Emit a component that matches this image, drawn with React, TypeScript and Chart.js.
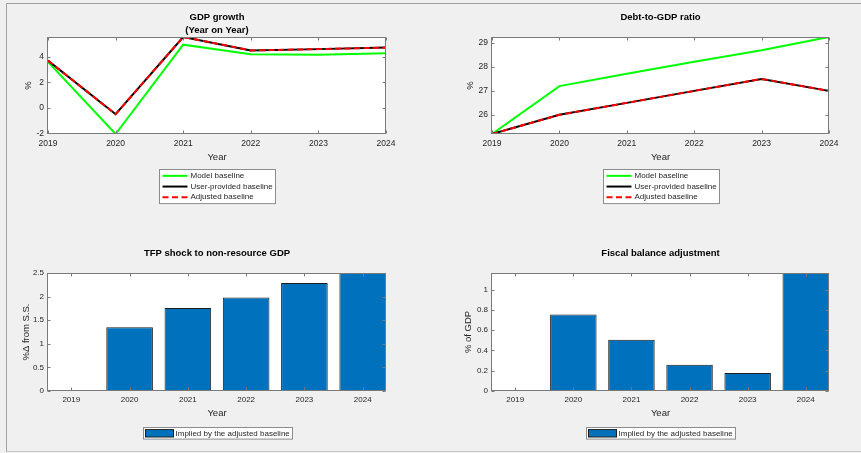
import React, { useEffect, useRef } from 'react';
import { Chart, registerables } from 'chart.js';

Chart.register(...registerables);

// ---------------- data ----------------
const YEARS = [2019, 2020, 2021, 2022, 2023, 2024];
const YEAR_LABELS = ['2019', '2020', '2021', '2022', '2023', '2024'];

const SERIES_LABELS = ['Model baseline', 'User-provided baseline', 'Adjusted baseline'];
const BAR_LABEL = 'Implied by the adjusted baseline';

const GDP_MODEL = [3.6, -2.05, 4.95, 4.2, 4.15, 4.28];
const GDP_USER = [3.7, -0.5, 5.55, 4.5, 4.6, 4.72];
const GDP_ADJUSTED = [3.7, -0.5, 5.55, 4.5, 4.6, 4.72];
const GDP_TICKS = [-2, 0, 2, 4];

const DEBT_MODEL = [25.2, 27.2, 27.72, 28.22, 28.7, 29.25];
const DEBT_USER = [25.2, 26.0, 26.5, 27.0, 27.5, 27.0];
const DEBT_ADJUSTED = [25.2, 26.0, 26.5, 27.0, 27.5, 27.0];
const DEBT_TICKS = [26, 27, 28, 29];

const TFP_SHOCK = [0, 1.35, 1.76, 1.98, 2.29, 2.5];
const TFP_TICKS = [0, 0.5, 1, 1.5, 2, 2.5];

const FISCAL_ADJ = [0, 0.755, 0.505, 0.26, 0.178, 1.165];
const FISCAL_TICKS = [0, 0.2, 0.4, 0.6, 0.8, 1];

// ---------------- style ----------------
const FONT = '"Liberation Sans", Arial, Helvetica, sans-serif';
const GREEN = '#00ff00';
const BLACK = '#000000';
const RED = '#ff0000';
const BAR_BLUE = '#0072BD';
const AXIS_COLOR = '#7a7a7a';
const TEXT_COLOR = '#262626';

Chart.defaults.font.family = FONT;
Chart.defaults.color = TEXT_COLOR;

const bgPlugin = {
  id: 'mlBg',
  beforeDraw(chart: any) {
    const { ctx, chartArea: a } = chart;
    ctx.save();
    ctx.fillStyle = '#ffffff';
    ctx.fillRect(a.left, a.top, a.right - a.left, a.bottom - a.top);
    ctx.restore();
  },
};

const framePlugin = {
  id: 'mlFrame',
  afterDraw(chart: any) {
    const { ctx, chartArea: a, scales } = chart;
    const x = scales.x;
    const y = scales.y;
    const TL = 3;
    ctx.save();
    ctx.strokeStyle = AXIS_COLOR;
    ctx.lineWidth = 1;
    const l = Math.round(a.left) - 0.5;
    const r = Math.round(a.right) - 0.5;
    const t = Math.round(a.top) + 0.5;
    const b = Math.round(a.bottom) - 0.5;
    ctx.strokeRect(l, t, r - l, b - t);
    ctx.beginPath();
    for (let i = 0; i < x.ticks.length; i++) {
      const px = Math.round(x.getPixelForTick(i)) + 0.5;
      ctx.moveTo(px, b);
      ctx.lineTo(px, b - TL);
      ctx.moveTo(px, t);
      ctx.lineTo(px, t + TL);
    }
    for (let i = 0; i < y.ticks.length; i++) {
      const py = Math.round(y.getPixelForTick(i)) + 0.5;
      ctx.moveTo(l, py);
      ctx.lineTo(l + TL, py);
      ctx.moveTo(r, py);
      ctx.lineTo(r - TL, py);
    }
    ctx.stroke();
    ctx.restore();
  },
};

const legendPlugin = {
  id: 'mlLegend',
  afterDraw(chart: any, _args: any, opts: any) {
    const { ctx, chartArea: a } = chart;
    const ds = chart.data.datasets;
    ctx.save();
    ctx.font = `8px ${FONT}`;
    const maxW = Math.max(...ds.map((d: any) => ctx.measureText(d.label).width));
    const textX = opts.kind === 'line' ? 31 : 32;
    const w = Math.round(textX + maxW + 3);
    const h = ds.length * opts.rowH + opts.padY * 2;
    const cx = (a.left + a.right) / 2 + (opts.dx || 0);
    const left = Math.round(cx - w / 2) + 0.5;
    const top = Math.round(opts.top) + 0.5;
    ctx.fillStyle = '#ffffff';
    ctx.fillRect(left, top, w, h);
    ctx.strokeStyle = '#8c8c8c';
    ctx.lineWidth = 1;
    ctx.strokeRect(left, top, w, h);
    ds.forEach((d: any, i: number) => {
      const yc = top + opts.padY + opts.rowH * (i + 0.5);
      if (opts.kind === 'line') {
        ctx.strokeStyle = d.borderColor;
        ctx.lineWidth = 2;
        ctx.setLineDash(d.borderDash || []);
        ctx.beginPath();
        ctx.moveTo(left + 3, yc);
        ctx.lineTo(left + 28, yc);
        ctx.stroke();
        ctx.setLineDash([]);
      } else {
        ctx.fillStyle = d.backgroundColor;
        ctx.fillRect(left + 2, yc - 3.7, 28, 7.4);
        ctx.strokeStyle = '#1c1c1c';
        ctx.lineWidth = 1;
        ctx.strokeRect(left + 2, yc - 3.7, 28, 7.4);
      }
      ctx.fillStyle = TEXT_COLOR;
      ctx.textAlign = 'left';
      ctx.textBaseline = 'middle';
      ctx.fillText(d.label, left + textX, yc);
    });
    ctx.restore();
  },
};

type Spec = {
  kind: 'line' | 'bar';
  box: { x: number; y: number; w: number; h: number };
  area: { l: number; t: number; r: number; b: number };
  title: string[];
  titleY: number;
  yTitle: string;
  yTitleX: number;
  yMin: number;
  yMax: number;
  yTicks: number[];
  tickFont: number;
  xTickPad: number;
  yearY: number;
  legendTop: number;
  datasets: any[];
};

function buildConfig(p: Spec): any {
  const cx = p.box.x;
  const cy = p.box.y;
  const TITLE_LH = 13;
  const AX_LH = 11;
  const titlePadTop = p.titleY - cy - TITLE_LH / 2;
  const titlePadBottom = p.area.t - cy - titlePadTop - TITLE_LH * p.title.length;
  const yW = p.area.l - cx;
  const xH = cy + p.box.h - p.area.b;
  const padRight = cx + p.box.w - p.area.r;
  const yearPadBottom = cy + p.box.h - p.yearY - AX_LH / 2;
  const yTitlePadTop = p.yTitleX - cx - AX_LH / 2;

  const xScale: any =
    p.kind === 'line'
      ? { type: 'category', offset: false }
      : {
          type: 'linear',
          offset: false,
          min: YEARS[0] - 0.4,
          max: YEARS[YEARS.length - 1] + 0.4,
          afterBuildTicks: (s: any) => {
            s.ticks = YEARS.map((v) => ({ value: v }));
          },
        };

  const xTickCallback =
    p.kind === 'line'
      ? (_v: any, i: number) => YEAR_LABELS[i]
      : (v: any) => String(v);

  return {
    type: p.kind,
    data:
      p.kind === 'line'
        ? { labels: YEAR_LABELS, datasets: p.datasets }
        : { datasets: p.datasets },
    options: {
      responsive: false,
      maintainAspectRatio: false,
      animation: false,
      events: [],
      layout: { padding: { left: 0, top: 0, right: padRight, bottom: 0 } },
      plugins: {
        legend: { display: false },
        tooltip: { enabled: false },
        title: {
          display: true,
          text: p.title,
          fullSize: false,
          color: '#000000',
          font: { size: 9.5, weight: 'bold', lineHeight: TITLE_LH + 'px' },
          padding: { top: titlePadTop, bottom: titlePadBottom },
        },
        mlLegend: {
          kind: p.kind,
          top: p.legendTop - cy,
          rowH: p.kind === 'line' ? 10.7 : 11.6,
          padY: p.kind === 'line' ? 1 : 0,
        },
      },
      scales: {
        x: {
          ...xScale,
          grid: { display: false, drawTicks: false },
          border: { display: false },
          ticks: {
            font: { size: p.tickFont },
            color: TEXT_COLOR,
            padding: p.xTickPad,
            maxRotation: 0,
            minRotation: 0,
            autoSkip: false,
            callback: xTickCallback,
          },
          title: {
            display: true,
            text: 'Year',
            color: TEXT_COLOR,
            font: { size: 9.5, lineHeight: AX_LH + 'px' },
            padding: { top: 0, bottom: yearPadBottom },
          },
          afterFit: (s: any) => {
            s.height = xH;
          },
        },
        y: {
          type: 'linear',
          min: p.yMin,
          max: p.yMax,
          afterBuildTicks: (s: any) => {
            s.ticks = p.yTicks.map((v) => ({ value: v }));
          },
          grid: { display: false, drawTicks: false },
          border: { display: false },
          ticks: {
            font: { size: p.tickFont },
            color: TEXT_COLOR,
            padding: 4,
            autoSkip: false,
            callback: (v: any) => String(v),
          },
          title: {
            display: true,
            text: p.yTitle,
            color: TEXT_COLOR,
            font: { size: 9.5, lineHeight: AX_LH + 'px' },
            padding: { top: yTitlePadTop, bottom: 0 },
          },
          afterFit: (s: any) => {
            s.width = yW;
          },
        },
      },
    },
    plugins: [bgPlugin, framePlugin, legendPlugin],
  };
}

function lineSets(model: number[], user: number[], adjusted: number[]) {
  const base = { borderWidth: 2, pointRadius: 0, fill: false, tension: 0 };
  return [
    { ...base, label: SERIES_LABELS[0], data: model, borderColor: GREEN, order: 3 },
    { ...base, label: SERIES_LABELS[1], data: user, borderColor: BLACK, order: 2 },
    { ...base, label: SERIES_LABELS[2], data: adjusted, borderColor: RED, borderDash: [6, 3.5], order: 1 },
  ];
}

function barSet(values: number[]) {
  return [
    {
      label: BAR_LABEL,
      data: YEARS.map((yr, i) => ({ x: yr, y: values[i] })),
      backgroundColor: BAR_BLUE,
      borderColor: '#1c1c1c',
      borderWidth: 1,
      borderSkipped: false,
      barPercentage: 0.8,
      categoryPercentage: 1,
    },
  ];
}

const SPECS: Spec[] = [
  {
    kind: 'line',
    box: { x: 8, y: 4, w: 420, h: 206 },
    area: { l: 48, t: 37, r: 386, b: 134 },
    title: ['GDP growth', '(Year on Year)'],
    titleY: 17,
    yTitle: '%',
    yTitleX: 28.5,
    yMin: -2.05,
    yMax: 5.55,
    yTicks: GDP_TICKS,
    tickFont: 8.5,
    xTickPad: 5,
    yearY: 157.5,
    legendTop: 169,
    datasets: lineSets(GDP_MODEL, GDP_USER, GDP_ADJUSTED),
  },
  {
    kind: 'line',
    box: { x: 434, y: 4, w: 424, h: 206 },
    area: { l: 492, t: 37, r: 829, b: 134 },
    title: ['Debt-to-GDP ratio'],
    titleY: 17,
    yTitle: '%',
    yTitleX: 470,
    yMin: 25.2,
    yMax: 29.25,
    yTicks: DEBT_TICKS,
    tickFont: 8.5,
    xTickPad: 5,
    yearY: 157.5,
    legendTop: 169,
    datasets: lineSets(DEBT_MODEL, DEBT_USER, DEBT_ADJUSTED),
  },
  {
    kind: 'bar',
    box: { x: 8, y: 232, w: 420, h: 218 },
    area: { l: 48, t: 273, r: 386, b: 391 },
    title: ['TFP shock to non-resource GDP'],
    titleY: 253.3,
    yTitle: '%\u0394 from S.S.',
    yTitleX: 26.5,
    yMin: 0,
    yMax: 2.5,
    yTicks: TFP_TICKS,
    tickFont: 8,
    xTickPad: 4.2,
    yearY: 413,
    legendTop: 426.7,
    datasets: barSet(TFP_SHOCK),
  },
  {
    kind: 'bar',
    box: { x: 434, y: 232, w: 424, h: 218 },
    area: { l: 492, t: 273, r: 829, b: 391 },
    title: ['Fiscal balance adjustment'],
    titleY: 253.3,
    yTitle: '% of GDP',
    yTitleX: 468.3,
    yMin: 0,
    yMax: 1.165,
    yTicks: FISCAL_TICKS,
    tickFont: 8,
    xTickPad: 4.2,
    yearY: 413,
    legendTop: 426.7,
    datasets: barSet(FISCAL_ADJ),
  },
];

function Panel({ spec }: { spec: Spec }) {
  const ref = useRef<HTMLCanvasElement | null>(null);
  useEffect(() => {
    if (!ref.current) return;
    const chart = new Chart(ref.current, buildConfig(spec));
    return () => chart.destroy();
  }, [spec]);
  return (
    <canvas
      ref={ref}
      width={spec.box.w}
      height={spec.box.h}
      style={{
        position: 'absolute',
        left: spec.box.x,
        top: spec.box.y,
        width: spec.box.w,
        height: spec.box.h,
      }}
    />
  );
}

export default function App() {
  return (
    <div
      style={{
        position: 'absolute',
        left: 0,
        top: 0,
        width: 861,
        height: 453,
        background: '#f0f0f0',
        overflow: 'hidden',
      }}
    >
      <div
        style={{
          position: 'absolute',
          left: 6,
          top: 3,
          width: 861 - 6,
          height: 452 - 3,
          boxSizing: 'border-box',
          borderTop: '1px solid #a0a0a0',
          borderLeft: '1px solid #a0a0a0',
          borderBottom: '1px solid #c8c8c8',
        }}
      />
      {SPECS.map((s, i) => (
        <Panel key={i} spec={s} />
      ))}
    </div>
  );
}
